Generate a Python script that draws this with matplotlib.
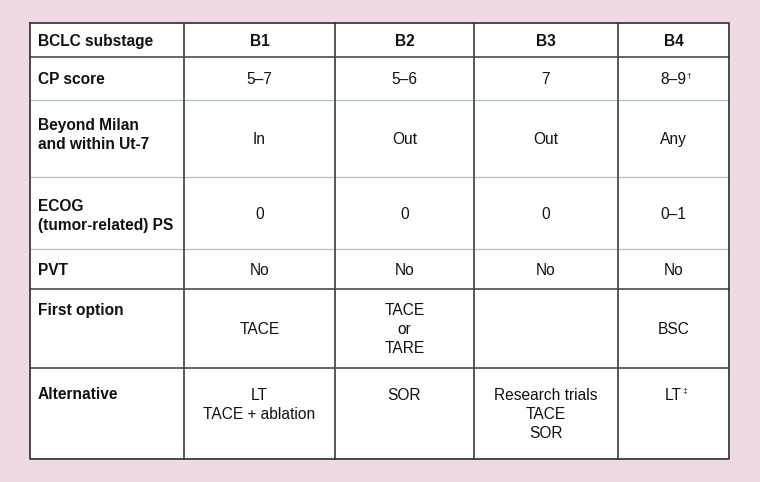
import matplotlib.pyplot as plt

# --- Table content ---
col_headers = ["B1", "B2", "B3", "B4"]
row_labels = ["BCLC substage", "CP score", "Beyond Milan\nand within Ut-7",
              "ECOG\n(tumor-related) PS", "PVT", "First option", "Alternative"]
cp_score = ["5\u20137", "5\u20136", "7", "8\u20139"]
milan_ut7 = ["In", "Out", "Out", "Any"]
ecog_ps = ["0", "0", "0", "0\u20131"]
pvt = ["No", "No", "No", "No"]
first_option = ["TACE", "TACE\nor\nTARE", "", "BSC"]
alternative = ["LT\nTACE + ablation", "SOR", "Research trials\nTACE\nSOR", "LT"]
# superscript marks: (row index, column index, mark)
footnote_marks = [(1, 3, "\u2020"), (6, 3, "\u2021")]

rows = [col_headers, cp_score, milan_ut7, ecog_ps, pvt, first_option, alternative]

# --- Layout (pixels, figure is 760x482) ---
col_x = [30, 184, 335, 474, 618, 729]
row_y = [23, 57, 100, 177, 249, 289, 368, 459]
# horizontal separators: True = dark, False = light
dark_rule = [True, False, False, False, True, True]
# first text line of each row label
label_y = [40, 78.5, 124, 205, 269, 309, 393]
line_gap = 19.3

bg = "#f0d9e6"
dark = "#3a3a3a"
light = "#a9bfc9"
fs = 11.2
font = "Liberation Sans"

fig = plt.figure(figsize=(7.6, 4.82), dpi=100, facecolor=bg)
ax = fig.add_axes([0, 0, 1, 1])
ax.set_xlim(0, 760)
ax.set_ylim(482, 0)
ax.axis("off")

# white table body
ax.fill_between([col_x[0], col_x[-1]], row_y[0], row_y[-1], color="white", zorder=0)

# horizontal rules
for i, is_dark in enumerate(dark_rule):
    y = row_y[i + 1]
    ax.plot([col_x[0], col_x[-1]], [y, y], color=dark if is_dark else light,
            lw=1.1 if is_dark else 0.9, zorder=1)

# vertical rules
for x in col_x[1:-1]:
    ax.plot([x, x], [row_y[0], row_y[-1]], color="#4a4a4a", lw=1.3, zorder=2)

# outer border
ax.plot([col_x[0], col_x[-1], col_x[-1], col_x[0], col_x[0]],
        [row_y[0], row_y[0], row_y[-1], row_y[-1], row_y[0]],
        color=dark, lw=1.3, zorder=3)

cap = 0.716 * fs * 100 / 72 / 2  # half cap height in pixels


def draw_lines(x, y_first, text, ha, weight):
    arts = []
    for k, line in enumerate(text.split("\n")):
        t = ax.text(x, y_first + k * line_gap + cap, line, ha=ha, va="baseline",
                    fontsize=fs, fontweight=weight, family=font, color="#111111")
        arts.append(t)
    return arts


# row labels
for r, lab in enumerate(row_labels):
    draw_lines(col_x[0] + 8, label_y[r], lab, "left", "bold")

# cell values
cells = {}
for r, vals in enumerate(rows):
    top, bottom = row_y[r], row_y[r + 1]
    for c, val in enumerate(vals):
        if not val:
            continue
        xc = (col_x[c + 1] + col_x[c + 2]) / 2
        n = len(val.split("\n"))
        if r == len(rows) - 1:
            y_first = 394
        else:
            y_first = (top + bottom) / 2 - (n - 1) * line_gap / 2
        arts = draw_lines(xc, y_first, val, "center", "bold" if r == 0 else "normal")
        cells[(r, c)] = arts[0]

# superscript footnote marks
for r, c, mark in footnote_marks:
    ax.annotate(mark, xy=(1, 0.72), xycoords=cells[(r, c)], xytext=(0.2, 0),
                textcoords="offset points", ha="left", va="center",
                fontsize=6, family=font, color="#111111")

fig.savefig("out.png", dpi=100, facecolor=bg)
